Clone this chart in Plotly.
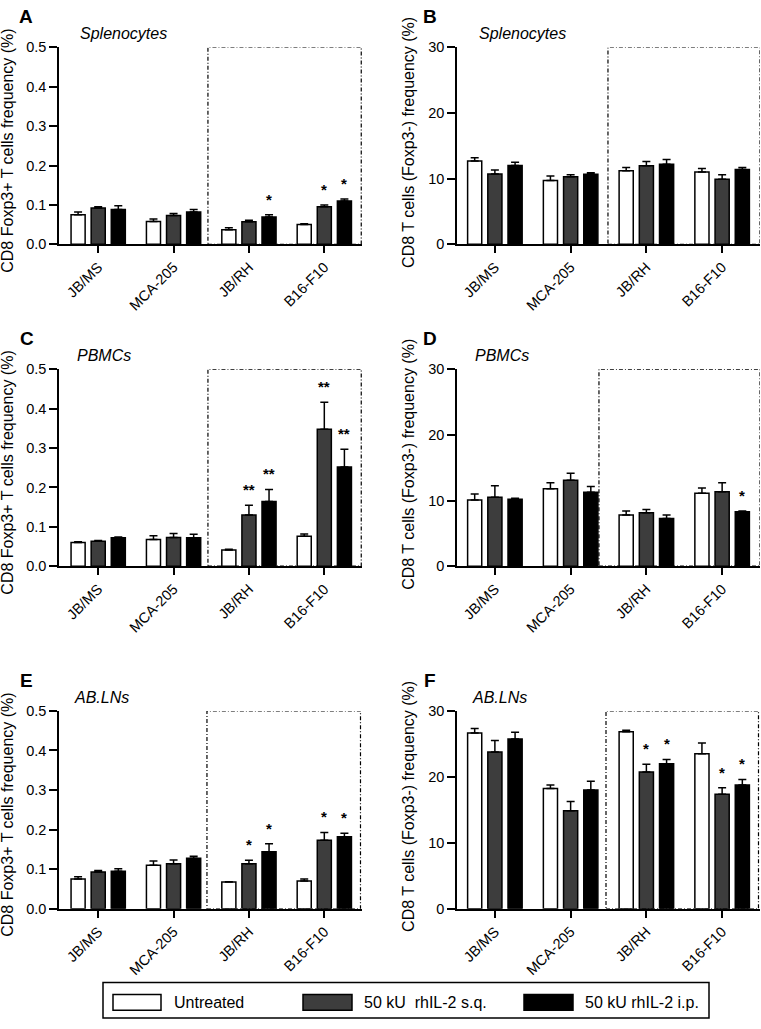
import plotly.graph_objects as go

# ---------------- data ----------------
categories = ["JB/MS", "MCA-205", "JB/RH", "B16-F10"]
groups = ["Untreated", "50 kU\u00a0 rhIL-2 s.q.", "50 kU rhIL-2 i.p."]
group_colors = ["#ffffff", "#3d3d3d", "#000000"]

left_ytitle = "CD8 Foxp3+ T cells frequency (%)"
right_ytitle = "CD8 T cells (Foxp3-) frequency (%)"

# rows: Untreated, s.q., i.p. ; columns: categories
A_means = [[0.075, 0.058, 0.037, 0.050], [0.092, 0.073, 0.057, 0.095], [0.088, 0.082, 0.069, 0.110]]
A_errs = [[0.007, 0.006, 0.005, 0.002], [0.003, 0.005, 0.004, 0.005], [0.010, 0.006, 0.006, 0.005]]
A_stars = [["", "", "", ""], ["", "", "", "*"], ["", "", "*", "*"]]

B_means = [[12.7, 9.7, 11.2, 11.0], [10.7, 10.3, 11.95, 9.9], [12.0, 10.65, 12.2, 11.4]]
B_errs = [[0.5, 0.7, 0.5, 0.55], [0.6, 0.3, 0.65, 0.7], [0.5, 0.25, 0.7, 0.3]]
B_stars = [["", "", "", ""], ["", "", "", ""], ["", "", "", ""]]

C_means = [[0.060, 0.068, 0.041, 0.076], [0.063, 0.073, 0.130, 0.348], [0.072, 0.072, 0.164, 0.252]]
C_errs = [[0.002, 0.009, 0.002, 0.006], [0.002, 0.010, 0.025, 0.068], [0.002, 0.009, 0.031, 0.045]]
C_stars = [["", "", "", ""], ["", "", "**", "**"], ["", "", "**", "**"]]

D_means = [[10.1, 11.8, 7.8, 11.1], [10.5, 13.1, 8.15, 11.35], [10.2, 11.25, 7.25, 8.3]]
D_errs = [[0.9, 0.9, 0.6, 0.8], [1.75, 1.05, 0.5, 1.35], [0.15, 0.9, 0.55, 0.1]]
D_stars = [["", "", "", ""], ["", "", "", ""], ["", "", "", "*"]]

E_means = [[0.075, 0.110, 0.0675, 0.070], [0.093, 0.114, 0.114, 0.173], [0.095, 0.1275, 0.144, 0.182]]
E_errs = [[0.006, 0.011, 0.001, 0.005], [0.004, 0.009, 0.0085, 0.020], [0.006, 0.0055, 0.020, 0.009]]
E_stars = [["", "", "", ""], ["", "", "*", "*"], ["", "", "*", "*"]]

F_means = [[26.65, 18.25, 26.85, 23.5], [23.75, 14.85, 20.75, 17.35], [25.75, 18.0, 22.0, 18.75]]
F_errs = [[0.7, 0.5, 0.2, 1.65], [1.75, 1.4, 1.15, 1.0], [1.0, 1.35, 0.65, 0.85]]
F_stars = [["", "", "", ""], ["", "", "*", "*"], ["", "", "*", "*"]]

# ---------------- layout helpers ----------------
W, H = 761, 1029
FONT = "Liberation Sans, Arial, Helvetica, sans-serif"


def px_x(p):
    return p / W


def px_y(p):
    return 1 - p / H


BARGAP = 0.2
BARGROUPGAP = 0.3

panels = [
    dict(letter="A", tissue="Splenocytes", ytitle=left_ytitle, means=A_means, errs=A_errs, stars=A_stars,
         ymax=0.5, dtick=0.1, fmt=".1f", box=(1.456, 3.49), xpx=(59, 362), ypx=(40, 240), xr=(-0.52, 3.5),
         letter_x=26, tissue_x=78, title_x=8, title_dy=5),
    dict(letter="B", tissue="Splenocytes", ytitle=right_ytitle, means=B_means, errs=B_errs, stars=B_stars,
         ymax=30, dtick=10, fmt="d", box=(1.493, 3.5), xpx=(457, 760), ypx=(40, 240), xr=(-0.5, 3.5),
         letter_x=430, tissue_x=477, title_x=409, title_dy=-4),
    dict(letter="C", tissue="PBMCs", ytitle=left_ytitle, means=C_means, errs=C_errs, stars=C_stars,
         ymax=0.5, dtick=0.1, fmt=".1f", box=(1.456, 3.49), xpx=(59, 362), ypx=(367, 567), xr=(-0.52, 3.5),
         letter_x=27, tissue_x=75, title_x=8, title_dy=5),
    dict(letter="D", tissue="PBMCs", ytitle=right_ytitle, means=D_means, errs=D_errs, stars=D_stars,
         ymax=30, dtick=10, fmt="d", box=(1.374, 3.5), xpx=(457, 760), ypx=(367, 567), xr=(-0.5, 3.5),
         letter_x=430, tissue_x=473, title_x=409, title_dy=-4),
    dict(letter="E", tissue="AB.LNs", ytitle=left_ytitle, means=E_means, errs=E_errs, stars=E_stars,
         ymax=0.5, dtick=0.1, fmt=".1f", box=(1.443, 3.48), xpx=(59, 362), ypx=(714, 915), xr=(-0.52, 3.5),
         letter_x=26, tissue_x=72, title_x=8, title_dy=5),
    dict(letter="F", tissue="AB.LNs", ytitle=right_ytitle, means=F_means, errs=F_errs, stars=F_stars,
         ymax=30, dtick=10, fmt="d", box=(1.467, 3.48), xpx=(457, 760), ypx=(714, 915), xr=(-0.5, 3.5),
         letter_x=430, tissue_x=470, title_x=409, title_dy=-4),
]

xpos = list(range(len(categories)))
slot = (1 - BARGAP) / len(groups)

fig = go.Figure()
annotations = []
shapes = []
layout_axes = {}

for i, p in enumerate(panels):
    n = i + 1
    xa = "x" if n == 1 else f"x{n}"
    ya = "y" if n == 1 else f"y{n}"
    xkey = "xaxis" if n == 1 else f"xaxis{n}"
    ykey = "yaxis" if n == 1 else f"yaxis{n}"

    for k, gname in enumerate(groups):
        fig.add_trace(go.Bar(
            x=xpos, y=p["means"][k], name=gname,
            marker=dict(color=group_colors[k], line=dict(color="black", width=1.5)),
            error_y=dict(type="data", array=p["errs"][k], arrayminus=[0] * len(categories),
                         symmetric=False, color="black", thickness=1.5, width=4),
            xaxis=xa, yaxis=ya, showlegend=False, hoverinfo="skip",
        ))
        # significance stars
        for j in range(len(categories)):
            s = p["stars"][k][j]
            if s:
                annotations.append(dict(
                    x=xpos[j] + (k - (len(groups) - 1) / 2) * slot,
                    y=p["means"][k][j] + p["errs"][k][j],
                    xref=xa, yref=ya, text=f"<b>{s}</b>", showarrow=False,
                    xanchor="center", yanchor="bottom", yshift=5,
                    font=dict(family=FONT, size=15, color="black"),
                ))

    x0p, x1p = p["xpx"]
    y0p, y1p = p["ypx"]
    layout_axes[xkey] = dict(
        domain=[px_x(x0p), px_x(x1p)], range=list(p["xr"]), anchor=ya,
        tickmode="array", tickvals=xpos, ticktext=categories, tickangle=-45,
        ticks="outside", ticklen=7, tickwidth=1.5, tickcolor="black",
        showline=True, linecolor="black", linewidth=1.5,
        showgrid=False, zeroline=False, fixedrange=True,
        tickfont=dict(family=FONT, size=14.5, color="black"),
    )
    layout_axes[ykey] = dict(
        domain=[px_y(y1p), px_y(y0p)], range=[0, p["ymax"]], anchor=xa,
        dtick=p["dtick"], tick0=0, tickformat=p["fmt"],
        ticks="outside", ticklen=8, tickwidth=1.5, tickcolor="black",
        showline=True, linecolor="black", linewidth=1.5,
        showgrid=False, zeroline=False, fixedrange=True,
        tickfont=dict(family=FONT, size=14.5, color="black"),
    )

    # dashed box around the last two tumour lines
    shapes.append(dict(type="rect", xref=xa, yref=ya, x0=p["box"][0], x1=p["box"][1],
                       y0=0, y1=p["ymax"], layer="below",
                       line=dict(color="black", width=1.2, dash="4px,2px,1px,2px")))

    # panel letter
    annotations.append(dict(x=px_x(p["letter_x"]), y=px_y(y0p - 31), xref="paper", yref="paper",
                            text=f"<b>{p['letter']}</b>", showarrow=False, xanchor="center", yanchor="middle",
                            font=dict(family=FONT, size=19, color="black")))
    # tissue label
    annotations.append(dict(x=px_x(p["tissue_x"]), y=px_y(y0p - 14), xref="paper", yref="paper",
                            text=f"<i>{p['tissue']}</i>", showarrow=False, xanchor="left", yanchor="middle",
                            font=dict(family=FONT, size=16, color="black")))
    # y-axis title
    annotations.append(dict(x=px_x(p["title_x"]), y=px_y((y0p + y1p) / 2 + p["title_dy"]),
                            xref="paper", yref="paper", text=p["ytitle"], textangle=-90,
                            showarrow=False, xanchor="center", yanchor="middle",
                            font=dict(family=FONT, size=16, color="black")))

# ---------------- legend (drawn box with wide swatches) ----------------
legend_box = (103, 709, 990, 1026)
swatch_x = [(113, 161), (303, 352), (524, 573)]
text_x = [172, 362, 583]
shapes.append(dict(type="rect", xref="paper", yref="paper",
                   x0=px_x(legend_box[0]), x1=px_x(legend_box[1]),
                   y0=px_y(legend_box[3]), y1=px_y(legend_box[2]),
                   line=dict(color="black", width=1.5), fillcolor="white"))
for k, gname in enumerate(groups):
    shapes.append(dict(type="rect", xref="paper", yref="paper",
                       x0=px_x(swatch_x[k][0]), x1=px_x(swatch_x[k][1]),
                       y0=px_y(1018), y1=px_y(1002),
                       line=dict(color="black", width=1.5), fillcolor=group_colors[k]))
    annotations.append(dict(x=px_x(text_x[k]), y=px_y(1010), xref="paper", yref="paper",
                            text=gname, showarrow=False, xanchor="left", yanchor="middle",
                            font=dict(family=FONT, size=16, color="black")))

fig.update_layout(
    width=W, height=H,
    margin=dict(l=0, r=0, t=0, b=0),
    paper_bgcolor="white", plot_bgcolor="white",
    barmode="group", bargap=BARGAP, bargroupgap=BARGROUPGAP,
    showlegend=False,
    font=dict(family=FONT, size=14, color="black"),
    annotations=annotations, shapes=shapes,
    **layout_axes,
)

fig.write_html(
    "out.html",
    config={"displayModeBar": False},
    post_script="document.body.style.margin='0';document.body.style.overflow='hidden';",
)
